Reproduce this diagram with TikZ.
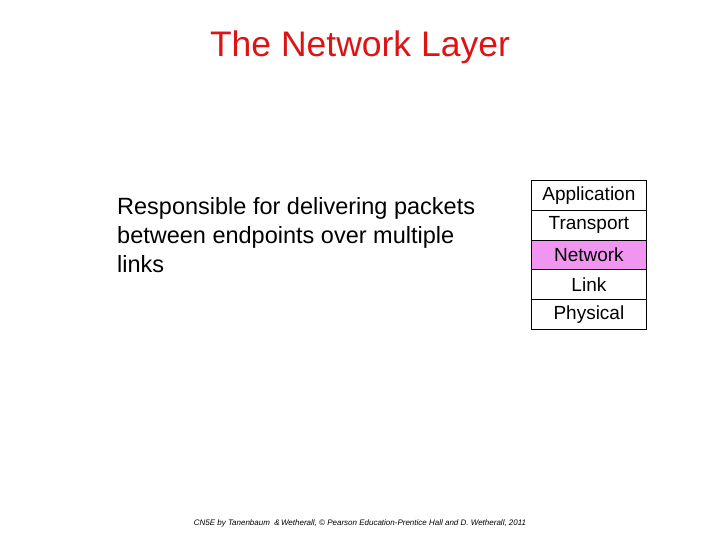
\documentclass[tikz,border=0pt]{standalone}
\usepackage{fontspec}
\setmainfont{Liberation Sans}
\definecolor{netpink}{RGB}{240,150,240}
\definecolor{titlered}{RGB}{220,20,20}
\begin{document}
\begin{tikzpicture}[x=1pt,y=-1pt,
  layer/.style={draw=black,line width=0.8pt,minimum width=115pt,minimum height=29.8pt,inner sep=0pt,font=\fontsize{19}{22}\selectfont,anchor=north west}]
\useasboundingbox (0,0) rectangle (720,540);
\node (title) at (360,47) {\fontsize{35.5}{40}\selectfont\color{titlered}The Network Layer};
\node[anchor=north west,align=left,font=\fontsize{23.5}{29}\selectfont,inner sep=0pt] (body) at (117,197)
 {Responsible for delivering packets\\between endpoints over multiple\\links};
\node[layer] (app) at (531,180) {Application};
\node[layer] (tra) at (531,209.8) {Transport};
\node[layer,fill=netpink] (net) at (531,239.6) {Network};
\node[layer] (lnk) at (531,269.4) {Link};
\node[layer] (phy) at (531,299.2) {Physical};
\node (foot) at (360,523) {\fontsize{8}{9}\selectfont\itshape CN5E by Tanenbaum \ \&\,Wetherall, \textcopyright{} Pearson Education-Prentice Hall and D. Wetherall, 2011};
\end{tikzpicture}
\end{document}
